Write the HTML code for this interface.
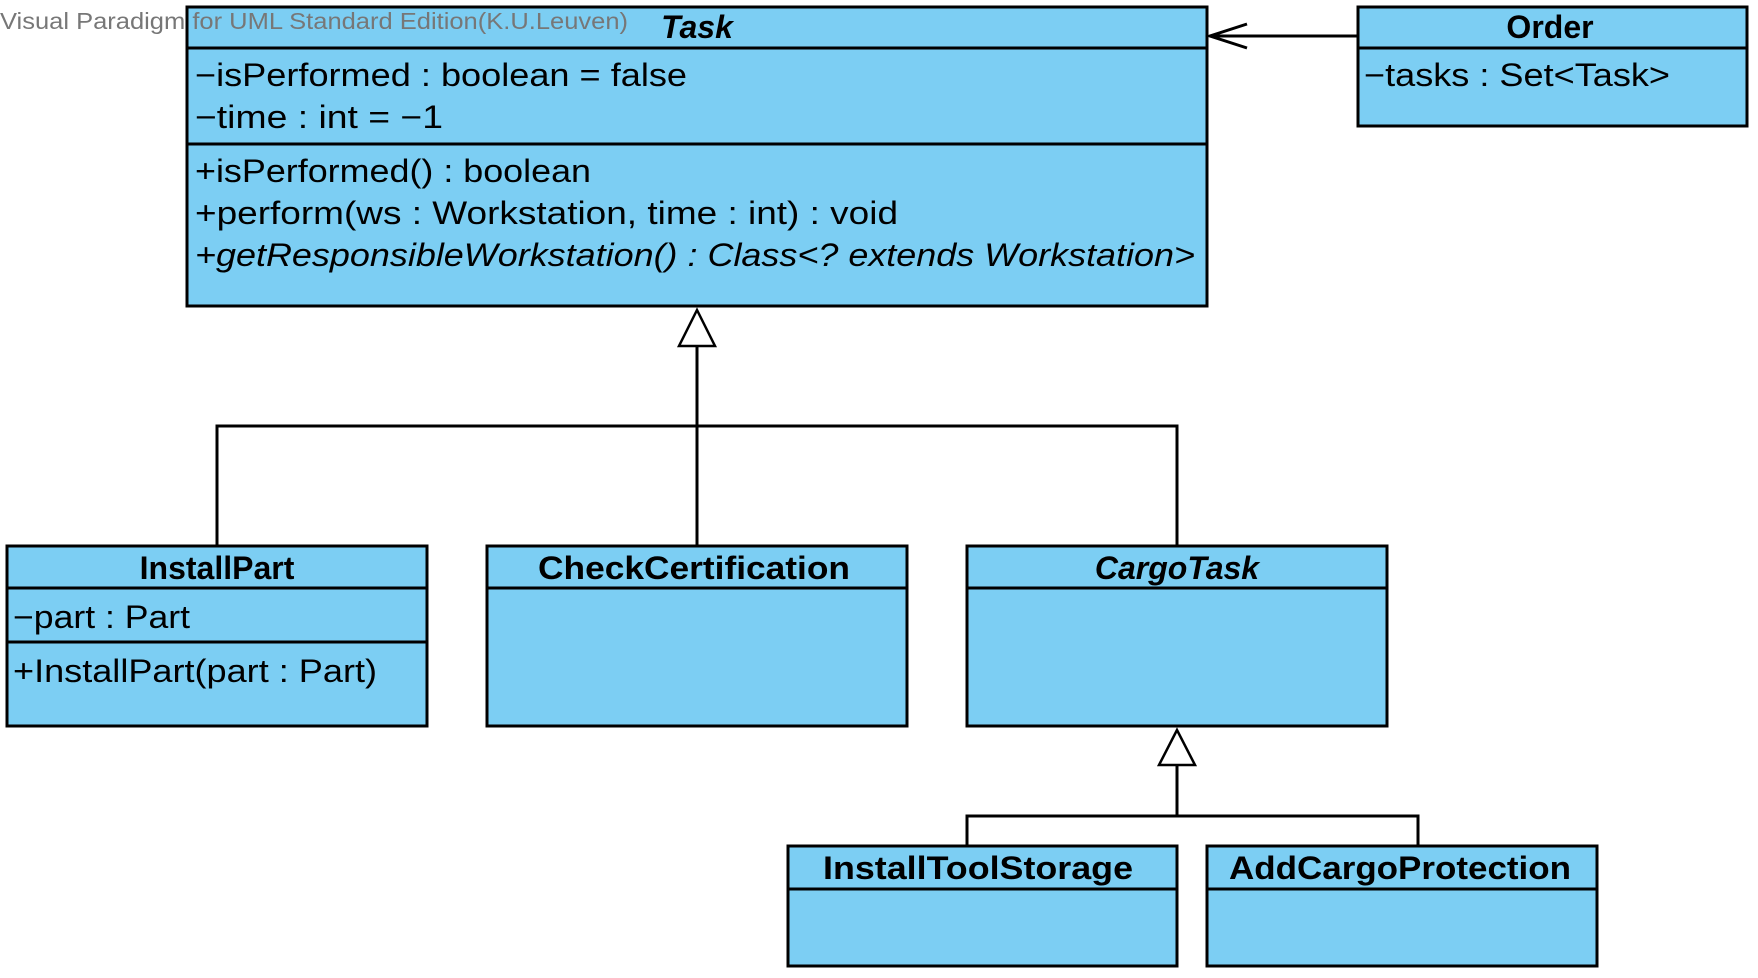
<!DOCTYPE html>
<html><head><meta charset="utf-8"><style>
html,body{margin:0;padding:0;background:#fff;}
svg{display:block;}
text{font-family:"Liberation Sans",sans-serif;fill:#000;}
</style></head><body>
<svg width="1758" height="978" viewBox="0 0 1758 978" xmlns="http://www.w3.org/2000/svg">
<g fill="#7ccef3" stroke="#000" stroke-width="3">
<rect x="187" y="7" width="1020" height="299"/>
<rect x="1358" y="7" width="389" height="119"/>
<rect x="7" y="546" width="420" height="180"/>
<rect x="487" y="546" width="420" height="180"/>
<rect x="967" y="546" width="420" height="180"/>
<rect x="788" y="846" width="389" height="120"/>
<rect x="1207" y="846" width="390" height="120"/>
</g>
<g stroke="#000" stroke-width="3" fill="none">
<line x1="187" y1="48" x2="1207" y2="48"/>
<line x1="187" y1="144" x2="1207" y2="144"/>
<line x1="1358" y1="48" x2="1747" y2="48"/>
<line x1="7" y1="588" x2="427" y2="588"/>
<line x1="7" y1="642" x2="427" y2="642"/>
<line x1="487" y1="588" x2="907" y2="588"/>
<line x1="967" y1="588" x2="1387" y2="588"/>
<line x1="788" y1="889" x2="1177" y2="889"/>
<line x1="1207" y1="889" x2="1597" y2="889"/>
<line x1="1357" y1="36" x2="1210" y2="36"/>
<polyline points="1247,24 1210,36 1247,48"/>
<line x1="697" y1="346" x2="697" y2="546"/>
<polyline points="217,546 217,426 1177,426 1177,546"/>
<line x1="1177" y1="765" x2="1177" y2="816"/>
<polyline points="967,846 967,816 1418,816 1418,846"/>
</g>
<g fill="#fff" stroke="#000" stroke-width="2.5">
<polygon points="697,310 679,346 715,346"/>
<polygon points="1177,730 1159,765 1195,765"/>
</g>
<text x="0" y="29" font-size="23" textLength="628" lengthAdjust="spacingAndGlyphs" style="fill:#777">Visual Paradigm for UML Standard Edition(K.U.Leuven)</text>
<text x="697" y="38" font-size="32" font-weight="bold" font-style="italic" text-anchor="middle">Task</text>
<text x="195" y="86" font-size="32" textLength="492" lengthAdjust="spacingAndGlyphs">−isPerformed : boolean = false</text>
<text x="195" y="128" font-size="32" textLength="248" lengthAdjust="spacingAndGlyphs">−time : int = −1</text>
<text x="195" y="182" font-size="32" textLength="396" lengthAdjust="spacingAndGlyphs">+isPerformed() : boolean</text>
<text x="195" y="224" font-size="32" textLength="703" lengthAdjust="spacingAndGlyphs">+perform(ws : Workstation, time : int) : void</text>
<text x="195" y="266" font-size="32" font-style="italic" textLength="1000" lengthAdjust="spacingAndGlyphs">+getResponsibleWorkstation() : Class&lt;? extends Workstation&gt;</text>
<text x="1550" y="38" font-size="32" font-weight="bold" text-anchor="middle">Order</text>
<text x="1364" y="86" font-size="32" textLength="306" lengthAdjust="spacingAndGlyphs">−tasks : Set&lt;Task&gt;</text>
<text x="217" y="579" font-size="32" font-weight="bold" text-anchor="middle">InstallPart</text>
<text x="13" y="628" font-size="32" textLength="177" lengthAdjust="spacingAndGlyphs">−part : Part</text>
<text x="13" y="682" font-size="32" textLength="364" lengthAdjust="spacingAndGlyphs">+InstallPart(part : Part)</text>
<text x="694" y="579" font-size="32" font-weight="bold" text-anchor="middle" textLength="312" lengthAdjust="spacingAndGlyphs">CheckCertification</text>
<text x="1177" y="579" font-size="32" font-weight="bold" font-style="italic" text-anchor="middle">CargoTask</text>
<text x="978" y="879" font-size="32" font-weight="bold" text-anchor="middle" textLength="310" lengthAdjust="spacingAndGlyphs">InstallToolStorage</text>
<text x="1400" y="879" font-size="32" font-weight="bold" text-anchor="middle" textLength="342" lengthAdjust="spacingAndGlyphs">AddCargoProtection</text>
</svg>
</body></html>
